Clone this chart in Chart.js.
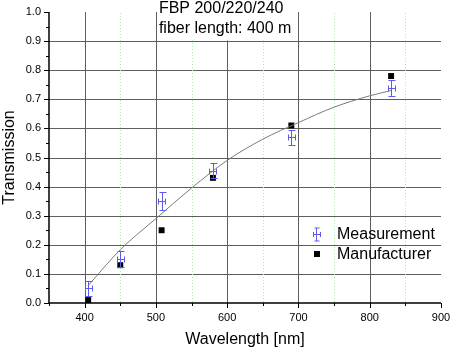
<!DOCTYPE html>
<html>
<head>
<meta charset="utf-8">
<style>
  html, body { margin: 0; padding: 0; background: #fff; }
  #wrap { width: 452px; height: 350px; }
</style>
<script src="https://cdn.jsdelivr.net/npm/chart.js@4/dist/chart.umd.min.js"></script>
</head>
<body>
<div id="wrap"><canvas id="chart" width="452" height="350"></canvas></div>
<script>
// ---- data ----
const wavelengths = [405, 450, 508, 580, 690, 830];
const measured = [0.05, 0.15, 0.35, 0.455, 0.57, 0.74];
const measuredErr = [0.025, 0.027, 0.03, 0.026, 0.026, 0.027];
const wavelengthErr = [5, 5, 5, 5, 5, 5];
const manufacturer = [0.01, 0.13, 0.25, 0.43, 0.61, 0.78];
const fitX = [405, 450, 500, 550, 600, 650, 700, 750, 800, 830];
const fitY = [0.06, 0.183, 0.29, 0.395, 0.49, 0.563, 0.62, 0.673, 0.712, 0.73];

const xTicks = [400, 500, 600, 700, 800, 900];
const xMinorTicks = [350, 450, 550, 650, 750, 850];
const xGridMajor = [400, 500, 600, 700, 800];
const yTicks = [0, 0.1, 0.2, 0.3, 0.4, 0.5, 0.6, 0.7, 0.8, 0.9, 1.0];
const yMinorTicks = [0.05, 0.15, 0.25, 0.35, 0.45, 0.55, 0.65, 0.75, 0.85, 0.95];
const yGrid = [0.1, 0.2, 0.3, 0.4, 0.5, 0.6, 0.7, 0.8, 0.9];
const titleLines = ['FBP 200/220/240', 'fiber length: 400 m'];
const seriesNames = ['Measurement', 'Manufacturer'];

const FONT = '"Liberation Sans", Arial, sans-serif';
const BLUE = '#5b5bef';
Chart.defaults.font.family = FONT;
Chart.defaults.color = '#000';

const crisp = (v) => Math.round(v) + 0.5;

// grid, axes, ticks and the white box behind the title
const framePlugin = {
  id: 'frame',
  beforeDatasetsDraw(chart) {
    const { ctx, chartArea: a } = chart;
    const xs = chart.scales.x, ys = chart.scales.y;
    ctx.save();
    ctx.lineWidth = 1;
    // horizontal grid
    ctx.strokeStyle = '#5e5e5e';
    yGrid.forEach((v) => {
      const y = crisp(ys.getPixelForValue(v));
      ctx.beginPath(); ctx.moveTo(a.left, y); ctx.lineTo(a.right, y); ctx.stroke();
    });
    // major vertical grid
    xGridMajor.forEach((v) => {
      const x = crisp(xs.getPixelForValue(v));
      ctx.beginPath(); ctx.moveTo(x, a.top); ctx.lineTo(x, a.bottom); ctx.stroke();
    });
    // minor dotted green grid
    ctx.strokeStyle = '#a4f0a4';
    ctx.setLineDash([1, 2]);
    xMinorTicks.slice(1).forEach((v) => {
      const x = crisp(xs.getPixelForValue(v));
      ctx.beginPath(); ctx.moveTo(x, a.top + 1); ctx.lineTo(x, a.bottom); ctx.stroke();
    });
    ctx.setLineDash([]);
    // white box behind the title text
    const bx0 = crisp(xs.getPixelForValue(500)) + 1;
    const bx1 = crisp(xs.getPixelForValue(700)) - 1;
    const by1 = crisp(ys.getPixelForValue(0.9)) - 1;
    ctx.fillStyle = '#fff';
    ctx.fillRect(bx0, a.top, bx1 - bx0, by1 - a.top);

    // axes
    ctx.strokeStyle = '#000';
    ctx.lineWidth = 1.5;
    const x0 = crisp(a.left) - 0.5, y0 = crisp(ys.getPixelForValue(0)) - 0.5;
    ctx.beginPath();
    ctx.moveTo(x0, a.top); ctx.lineTo(x0, y0);
    ctx.lineTo(a.right, y0);
    ctx.stroke();
    ctx.lineWidth = 1;
    yTicks.forEach((v) => {
      const y = crisp(ys.getPixelForValue(v));
      ctx.beginPath(); ctx.moveTo(x0 - 5, y); ctx.lineTo(x0, y); ctx.stroke();
    });
    yMinorTicks.forEach((v) => {
      const y = crisp(ys.getPixelForValue(v));
      ctx.beginPath(); ctx.moveTo(x0 - 3, y); ctx.lineTo(x0, y); ctx.stroke();
    });
    xTicks.forEach((v) => {
      const x = crisp(xs.getPixelForValue(v));
      ctx.beginPath(); ctx.moveTo(x, y0); ctx.lineTo(x, y0 + 5); ctx.stroke();
    });
    xMinorTicks.forEach((v) => {
      const x = crisp(xs.getPixelForValue(v));
      ctx.beginPath(); ctx.moveTo(x, y0); ctx.lineTo(x, y0 + 3); ctx.stroke();
    });
    ctx.restore();
  },
  afterDatasetDraw(chart, args) {
    // error bars for the measurement series
    if (args.index !== 1) return;
    const { ctx } = chart;
    const xs = chart.scales.x, ys = chart.scales.y;
    ctx.save();
    ctx.strokeStyle = BLUE;
    ctx.lineWidth = 1;
    wavelengths.forEach((w, i) => {
      const x = crisp(xs.getPixelForValue(w));
      const y = crisp(ys.getPixelForValue(measured[i]));
      const yt = crisp(ys.getPixelForValue(measured[i] + measuredErr[i]));
      const yb = crisp(ys.getPixelForValue(measured[i] - measuredErr[i]));
      const xl = crisp(xs.getPixelForValue(w - wavelengthErr[i]));
      const xr = crisp(xs.getPixelForValue(w + wavelengthErr[i]));
      ctx.beginPath();
      ctx.moveTo(x, yt); ctx.lineTo(x, yb);
      ctx.moveTo(x - 3, yt); ctx.lineTo(x + 4, yt);
      ctx.moveTo(x - 3, yb); ctx.lineTo(x + 4, yb);
      ctx.moveTo(xl, y); ctx.lineTo(xr, y);
      ctx.moveTo(xl, y - 3); ctx.lineTo(xl, y + 3);
      ctx.moveTo(xr, y - 3); ctx.lineTo(xr, y + 3);
      ctx.stroke();
    });
    ctx.restore();
  },
  afterDraw(chart) {
    const { ctx, chartArea: a } = chart;
    const xs = chart.scales.x;
    ctx.save();
    ctx.fillStyle = '#000';
    ctx.font = '16px ' + FONT;
    ctx.textBaseline = 'alphabetic';
    ctx.textAlign = 'left';
    // title inside the plot
    const tx = xs.getPixelForValue(500) + 3;
    ctx.fillText(titleLines[0], tx, a.top + 1);
    ctx.fillText(titleLines[1], tx, a.top + 21);

    // legend
    const lx = a.right - 125, ly = a.top + 222;
    ctx.strokeStyle = BLUE;
    ctx.lineWidth = 1;
    const ix = crisp(lx);
    ctx.beginPath();
    ctx.moveTo(ix, ly - 6); ctx.lineTo(ix, ly + 7);
    ctx.moveTo(ix - 2, ly - 6); ctx.lineTo(ix + 3, ly - 6);
    ctx.moveTo(ix - 2, ly + 7); ctx.lineTo(ix + 3, ly + 7);
    ctx.moveTo(ix - 3, ly + 0.5); ctx.lineTo(ix + 4, ly + 0.5);
    ctx.moveTo(ix - 3, ly - 2); ctx.lineTo(ix - 3, ly + 3);
    ctx.moveTo(ix + 4, ly - 2); ctx.lineTo(ix + 4, ly + 3);
    ctx.stroke();
    ctx.fillRect(Math.round(lx) - 2, ly + 17, 6, 6);
    ctx.fillText(seriesNames[0], lx + 21, ly + 5);
    ctx.fillText(seriesNames[1], lx + 21, ly + 25);
    ctx.restore();
  }
};

new Chart(document.getElementById('chart'), {
  type: 'scatter',
  data: {
    datasets: [
      {
        type: 'line',
        label: 'fit',
        data: fitX.map((x, i) => ({ x, y: fitY[i] })),
        borderColor: '#7a7a7a',
        borderWidth: 1,
        pointRadius: 0,
        fill: false,
        cubicInterpolationMode: 'monotone',
      },
      {
        label: seriesNames[0],
        data: wavelengths.map((x, i) => ({ x, y: measured[i] })),
        pointRadius: 0,
        borderColor: BLUE,
        backgroundColor: BLUE,
      },
      {
        label: seriesNames[1],
        data: wavelengths.map((x, i) => ({ x, y: manufacturer[i] })),
        pointStyle: 'rect',
        pointRadius: 4.2,
        backgroundColor: '#000',
        borderColor: '#000',
        borderWidth: 0,
      },
    ],
  },
  options: {
    responsive: false,
    animation: false,
    devicePixelRatio: 1,
    layout: { padding: { top: 12, right: 11, left: 0, bottom: 0 } },
    plugins: { legend: { display: false }, tooltip: { enabled: false } },
    scales: {
      x: {
        type: 'linear',
        min: 350,
        max: 900,
        afterBuildTicks: (s) => { s.ticks = xTicks.map((v) => ({ value: v })); },
        afterFit: (s) => { s.height = 47; s.paddingLeft = 0; s.paddingRight = 0; },
        grid: { display: false, drawTicks: false },
        border: { display: false },
        ticks: { font: { size: 11 }, padding: 8, maxRotation: 0, autoSkip: false, color: '#000' },
        title: { display: true, text: 'Wavelength [nm]', font: { size: 16 }, color: '#000', padding: { top: 1, bottom: 1 } },
      },
      y: {
        min: 0,
        max: 1,
        afterBuildTicks: (s) => { s.ticks = yTicks.map((v) => ({ value: v })); },
        afterFit: (s) => { s.width = 49; s.paddingTop = 0; s.paddingBottom = 0; },
        grid: { display: false, drawTicks: false },
        border: { display: false },
        ticks: { font: { size: 11 }, padding: 8, color: '#000', callback: (v) => Number(v).toFixed(1) },
        title: { display: true, text: 'Transmission', font: { size: 16 }, color: '#000', padding: { top: 0, bottom: 0 } },
      },
    },
  },
  plugins: [framePlugin],
});
</script>
</body>
</html>
